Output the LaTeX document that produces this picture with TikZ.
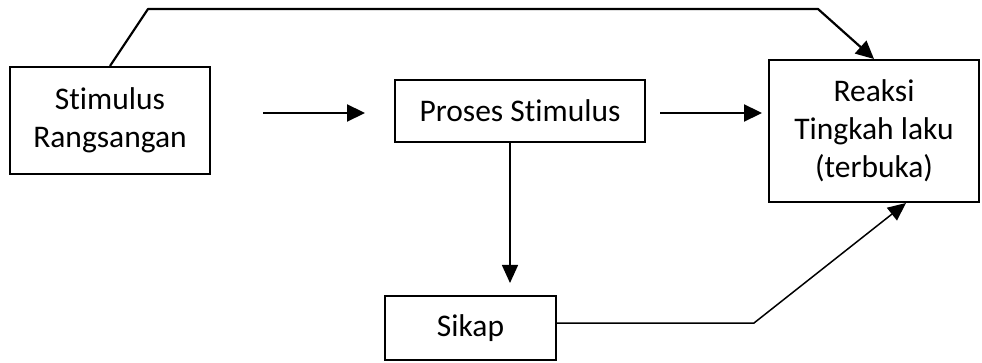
\documentclass[tikz,border=0pt]{standalone}
\usepackage{fontspec}
\setmainfont{Carlito}[Ligatures=NoCommon]
\usetikzlibrary{arrows.meta,positioning}

\begin{document}
\begin{tikzpicture}[x=1pt,y=-1pt,
    box/.style={draw,line width=2pt,align=center,inner sep=0pt,font=\fontsize{31.5}{38}\selectfont},
    link/.style={line width=2.2pt,-{Triangle[length=18pt,width=17pt]}},
    thinlink/.style={line width=1.5pt,-{Triangle[length=18pt,width=16pt]}}]
    \useasboundingbox (0,0) rectangle (982,363);

    \node[box,minimum width=200pt,minimum height=107pt] (stim) at (110,120.5) {Stimulus\\Rangsangan};
    \node[box,minimum width=250pt,minimum height=62pt] (proses) at (520,111) {Proses Stimulus};
    \node[box,minimum width=210pt,minimum height=142pt] (reaksi) at (874,131) {Reaksi\\Tingkah laku\\(terbuka)};
    \node[box,minimum width=171pt,minimum height=64pt] (sikap) at (470.5,328) {Sikap};

    \coordinate (a1) at (263,113);
    \coordinate (a2) at (365,113);
    \coordinate (a3) at (660,113);
    \coordinate (a4) at (762,113);
    \coordinate (t1) at (148,9);
    \coordinate (t2) at (818,9);
    \coordinate (k1) at (754,323);

    \draw [link] (a1) -- (a2);
    \draw [link] (a3) -- (a4);
    \draw [link,line join=round] (stim.north) -- (t1) -- (t2) -- (reaksi.north);
    \draw [thinlink] ([xshift=-10pt]proses.south) -- ([xshift=-10pt]proses.south |- sikap.north) [shorten >=12pt];
    \draw [thinlink] ([yshift=5pt]sikap.east) -- (k1) -- ([xshift=32pt]reaksi.south);
\end{tikzpicture}
\end{document}
